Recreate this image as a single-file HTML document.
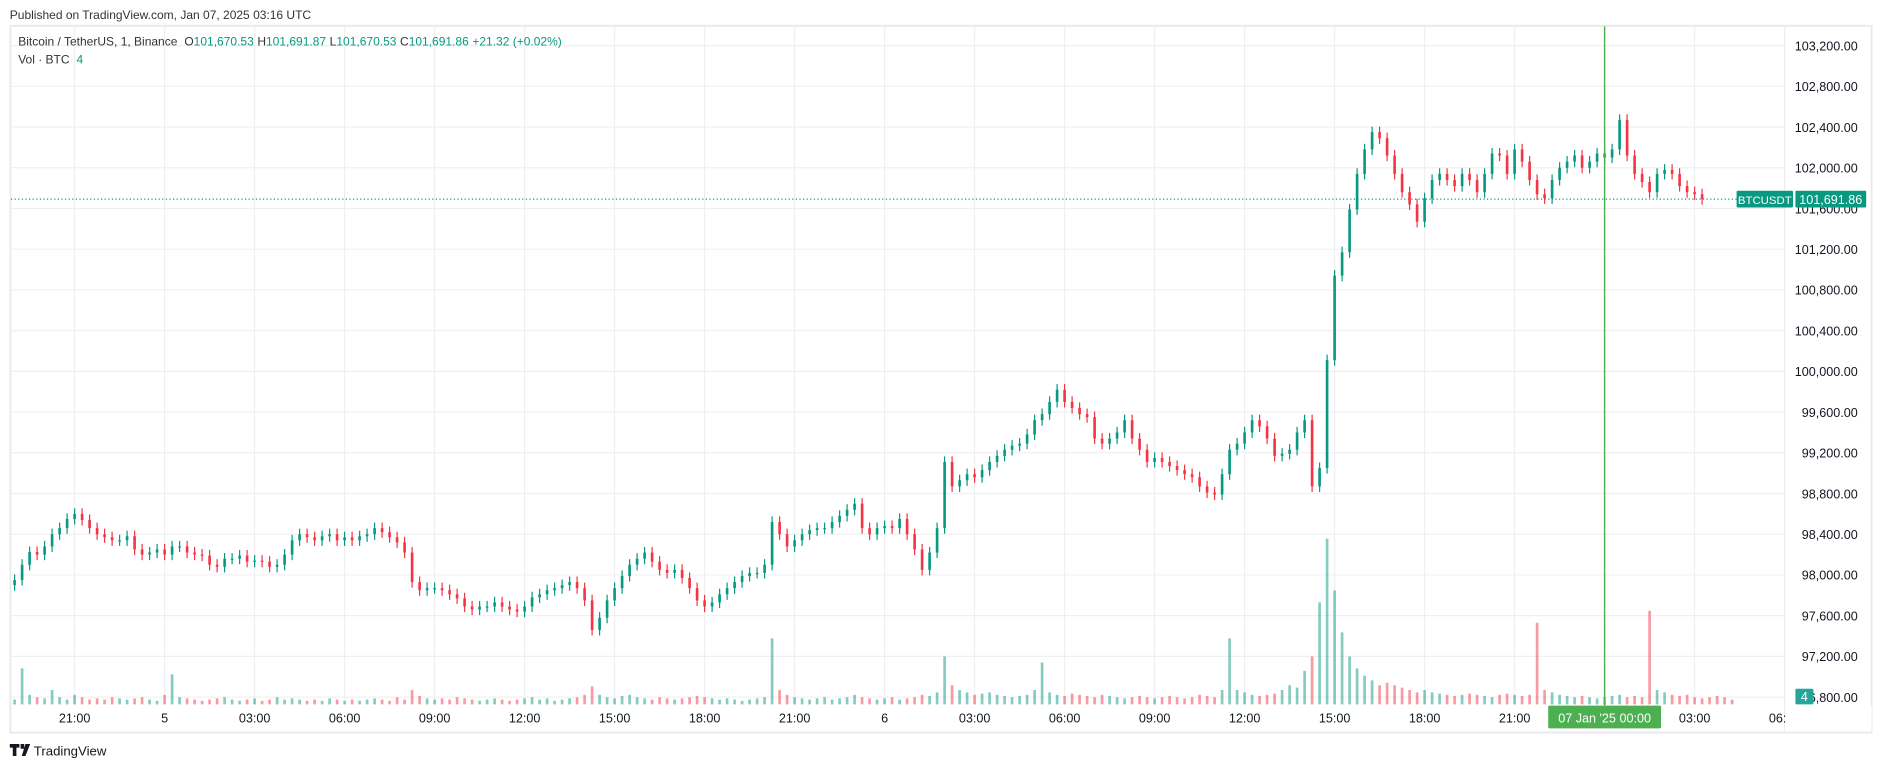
<!DOCTYPE html>
<html><head><meta charset="utf-8"><style>
html,body{margin:0;padding:0;background:#fff;}
svg{display:block;font-family:"Liberation Sans",sans-serif;}
</style></head><body>
<svg id="chart" width="1882" height="768" viewBox="0 0 1568 640" xmlns="http://www.w3.org/2000/svg">
<rect x="0" y="0" width="1568" height="640" fill="#fff"/>
<text x="8" y="16" font-size="10" fill="#333">Published on TradingView.com, Jan 07, 2025 03:16 UTC</text>
<rect x="8.5" y="21.5" width="1551" height="589" fill="none" stroke="#e8e8ee" stroke-width="1.5"/>
<g id="grid"></g>
<g id="vol"></g>
<g id="candles"></g>
<g id="axes"></g>
<text x="15" y="38" font-size="10" fill="#333">Bitcoin / TetherUS, 1, Binance <tspan dx="3">O</tspan><tspan fill="#089981">101,670.53</tspan><tspan dx="3">H</tspan><tspan fill="#089981">101,691.87</tspan><tspan dx="3">L</tspan><tspan fill="#089981">101,670.53</tspan><tspan dx="3">C</tspan><tspan fill="#089981">101,691.86</tspan><tspan dx="3" fill="#089981">+21.32 (+0.02%)</tspan></text>
<text x="15" y="53" font-size="10" fill="#333">Vol · BTC <tspan dx="3" fill="#089981">4</tspan></text>
<g>
<path d="M8 620 h8 v3 h-2.5 v7 h-3 v-7 h-2.5z M17 620 h3 v4 h-3z M21 620 h4 l-4 10 h-3z" fill="#131722"/>
<text x="28" y="629.5" font-size="11" fill="#131722">TradingView</text>
</g>
</svg>
<script>
const closes=[97950,98100,98225,98200,98280,98400,98460,98550,98600,98540,98460,98400,98370,98340,98340,98380,98250,98200,98220,98250,98200,98280,98280,98220,98200,98190,98100,98080,98160,98160,98190,98130,98140,98130,98080,98100,98200,98340,98400,98370,98340,98380,98400,98340,98370,98340,98380,98400,98460,98420,98370,98320,98220,97930,97850,97870,97870,97850,97810,97770,97690,97660,97690,97690,97730,97690,97660,97640,97690,97780,97810,97850,97870,97900,97930,97870,97750,97460,97580,97750,97870,97990,98100,98160,98220,98130,98050,98020,98050,97970,97870,97750,97690,97730,97810,97870,97930,97990,98020,98020,98100,98520,98400,98280,98340,98400,98440,98460,98460,98520,98580,98640,98700,98460,98400,98460,98480,98460,98550,98400,98250,98050,98220,98460,99110,98870,98930,98990,98960,99030,99110,99170,99230,99270,99290,99380,99520,99580,99700,99820,99700,99640,99580,99550,99340,99290,99340,99400,99520,99340,99230,99110,99150,99110,99070,99030,98990,98960,98870,98810,98790,98990,99230,99290,99400,99520,99460,99340,99170,99190,99230,99400,99520,98870,99050,100110,100940,101170,101590,101940,102180,102350,102290,102120,101940,101760,101640,101470,101700,101880,101940,101880,101820,101940,101880,101760,101940,102140,102120,101940,102180,102060,101880,101740,101700,101880,102000,102060,102120,102000,102060,102140,102100,102180,102470,102120,101940,101860,101760,101940,101980,101940,101820,101760,101740,101691.86];
const firstOpen=97900;
const volumes=[20,150,40,30,25,60,30,20,40,30,20,25,20,30,25,20,25,30,20,15,40,125,30,25,20,15,20,25,30,20,15,20,25,15,20,30,20,25,20,15,20,15,25,20,15,20,15,20,25,20,15,30,20,60,35,25,20,25,20,30,25,20,15,20,25,20,15,20,25,30,20,25,15,20,25,30,40,75,40,30,25,35,40,30,25,20,30,25,20,25,30,35,30,25,20,25,20,15,20,25,30,275,60,40,30,25,20,25,30,20,25,30,40,30,25,20,25,30,20,25,30,40,35,50,200,80,60,50,40,45,50,40,35,30,35,40,60,175,50,40,35,45,40,35,30,40,35,30,25,30,35,30,25,30,35,30,25,30,40,35,30,60,275,60,50,40,35,40,45,60,80,70,140,200,425,690,475,300,200,150,120,100,80,90,80,70,60,50,60,50,45,40,35,40,45,40,35,30,40,45,40,35,40,340,60,50,40,35,30,35,30,25,30,35,40,30,35,30,390,60,50,40,35,40,30,25,30,35,30,20];
const priceTicks=[103200,102800,102400,102000,101600,101200,100800,100400,100000,99600,99200,98800,98400,98000,97600,97200,96800];
const timeTickHours=[2,5,8,11,14,17,20,23,26,29,32,35,38,41,44,47,50,53,56,59];
const timeTickLabels=["21:00","5","03:00","06:00","09:00","12:00","15:00","18:00","21:00","6","03:00","06:00","09:00","12:00","15:00","18:00","21:00","00:00","03:00","06:00"];
const lastPrice=101691.86;
const crosshairHour=53;

const NS="http://www.w3.org/2000/svg";
const X0=12, STEP=6.25, PXH=25, AXR=1487;
function xIdx(i){return X0+i*STEP;}
function xHour(h){return X0+h*PXH;}
function yP(p){return 38+(103200-p)*0.08483;}
function yV(v){return 587-v*0.2;}
function fmt(n){return n.toLocaleString('en-US',{minimumFractionDigits:2,maximumFractionDigits:2});}
function mk(tag,attrs,parent){const e=document.createElementNS(NS,tag);for(const k in attrs)e.setAttribute(k,attrs[k]);parent.appendChild(e);return e;}
const grid=document.getElementById('grid'),vol=document.getElementById('vol'),cg=document.getElementById('candles'),ax=document.getElementById('axes');
priceTicks.forEach(p=>{const l=mk('line',{x1:9,x2:AXR,y1:yP(p),y2:yP(p),stroke:'#f0f0f3','stroke-width':1},grid);

});
timeTickHours.forEach(h=>{const x=xHour(h);if(x>AXR)return;const l=mk('line',{x1:x,x2:x,y1:22,y2:587,stroke:'#f0f0f3','stroke-width':1},grid);

});
mk('line',{x1:AXR,x2:AXR,y1:22,y2:610,stroke:'#eeeef2','stroke-width':1},grid);
volumes.forEach((v,i)=>{const o=i?closes[i-1]:firstOpen;const up=closes[i]>=o;
const r=mk('rect',{x:xIdx(i)-1.1,y:yV(v),width:2.2,height:587-yV(v),fill:up?'rgba(8,153,129,0.5)':'rgba(242,54,69,0.5)'},vol);

});
const lp=mk('line',{x1:9,x2:1447,y1:yP(lastPrice),y2:yP(lastPrice),stroke:'#089981','stroke-width':1,'stroke-dasharray':'1 2'},cg);


closes.forEach((c,i)=>{const o=i?closes[i-1]:firstOpen;const up=c>=o;const col=up?'#089981':'#f23645';
const g=mk('g',{},cg);


const hi=Math.max(o,c)+55,lo=Math.min(o,c)-55;const x=xIdx(i);
mk('line',{x1:x,x2:x,y1:yP(hi),y2:yP(lo),stroke:col,'stroke-width':1},g);
const t=yP(Math.max(o,c)),b=yP(Math.min(o,c));
mk('rect',{x:x-1.1,y:t,width:2.2,height:Math.max(1,b-t),fill:col},g);});
priceTicks.forEach(p=>{const t=mk('text',{x:1548,y:yP(p)+4,'font-size':10.5,fill:'#131722','text-anchor':'end'},ax);t.textContent=fmt(p);

});
timeTickHours.forEach((h,k)=>{const x=xHour(h);const t=mk('text',{x:x,y:602,'font-size':10.5,fill:'#131722','text-anchor':'middle'},ax);t.textContent=timeTickLabels[k];

});
mk('rect',{x:AXR+0.5,y:588,width:72,height:21,fill:'#fff'},ax);
const cx=xHour(crosshairHour);
const cl=mk('line',{x1:cx,x2:cx,y1:22,y2:588,stroke:'#4caf50','stroke-width':1.2},ax);


const cb=mk('rect',{x:cx-47,y:588,width:94,height:19,fill:'#4caf50',rx:1},ax);


const ct=mk('text',{x:cx,y:602,'font-size':10.5,fill:'#fff','text-anchor':'middle'},ax);ct.textContent="07 Jan '25   00:00";
const bx=mk('rect',{x:1447,y:yP(lastPrice)-7,width:47,height:14,fill:'#089981',rx:1},ax);


const bt=mk('text',{x:1470.5,y:yP(lastPrice)+4,'font-size':9.5,fill:'#fff','text-anchor':'middle'},ax);bt.textContent='BTCUSDT';
const px=mk('rect',{x:1496,y:yP(lastPrice)-7,width:59,height:14,fill:'#089981',rx:1},ax);


const pt=mk('text',{x:1525.5,y:yP(lastPrice)+4,'font-size':10.5,fill:'#fff','text-anchor':'middle'},ax);pt.textContent=fmt(lastPrice);
const vb=mk('rect',{x:1496,y:574,width:15,height:13,fill:'#26a69a',rx:1},ax);


const vt=mk('text',{x:1503.5,y:584,'font-size':10.5,fill:'#fff','text-anchor':'middle'},ax);vt.textContent='4';
</script>
</body></html>
